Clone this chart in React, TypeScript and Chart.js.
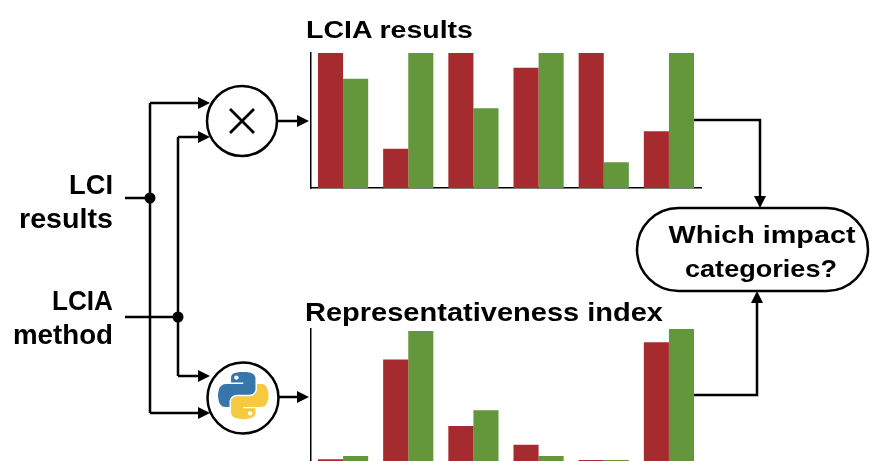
import React, { useEffect, useRef } from "react";
import { Chart, registerables } from "chart.js";

Chart.register(...registerables);

const categories = ["C1", "C2", "C3", "C4", "C5", "C6"];
const lciaRed = [100, 29, 100, 89, 100, 42];
const lciaGreen = [81, 100, 59, 100, 19, 100];
const repRed = [2, 77, 27, 13, 1.5, 90];
const repGreen = [4.5, 98.5, 39, 4.5, 1.5, 100];

const RED = "#A62B2F";
const GREEN = "#64963C";
const FONT = "'Liberation Sans', Arial, sans-serif";

type BarProps = {
  red: number[];
  green: number[];
  left: number;
  top: number;
  width: number;
  height: number;
  padding: { left: number; right: number; top: number; bottom: number };
};

function BarChart({ red, green, left, top, width, height, padding }: BarProps) {
  const ref = useRef<HTMLCanvasElement>(null);
  useEffect(() => {
    const chart = new Chart(ref.current as HTMLCanvasElement, {
      type: "bar",
      data: {
        labels: categories,
        datasets: [
          { data: red, backgroundColor: RED, borderWidth: 0 },
          { data: green, backgroundColor: GREEN, borderWidth: 0 },
        ],
      },
      options: {
        animation: false,
        responsive: false,
        maintainAspectRatio: false,
        layout: { padding },
        datasets: { bar: { categoryPercentage: 0.77, barPercentage: 1 } },
        plugins: {
          legend: { display: false },
          tooltip: { enabled: false },
          title: { display: false },
        },
        scales: {
          x: {
            grid: { display: false, drawTicks: false },
            ticks: { display: false },
            border: { display: true, color: "#000", width: 1.5 },
          },
          y: {
            min: 0,
            max: 100,
            grid: { display: false, drawTicks: false },
            ticks: { display: false },
            border: { display: true, color: "#000", width: 1.5 },
          },
        },
      },
    });
    return () => chart.destroy();
  }, []);
  return (
    <canvas
      ref={ref}
      width={width}
      height={height}
      style={{ position: "absolute", left, top, width, height }}
    />
  );
}

function arrow(x: number, y: number, dir: "r" | "d" | "u"): string {
  const L = 12;
  const W = 6;
  if (dir === "r") return `${x},${y} ${x - L},${y - W} ${x - L},${y + W}`;
  if (dir === "d") return `${x},${y} ${x - W},${y - L} ${x + W},${y - L}`;
  return `${x},${y} ${x - W},${y + L} ${x + W},${y + L}`;
}

const lines = [
  "M125,198H150",
  "M150,103V413",
  "M150,103H200",
  "M150,413H200",
  "M125,317H178",
  "M178,137V376",
  "M178,137H200",
  "M178,376H200",
  "M278,121H298",
  "M279,397H298",
  "M694,120H760V197",
  "M694,395H757V302",
];

const heads: [number, number, "r" | "d" | "u"][] = [
  [210, 103, "r"],
  [210, 413, "r"],
  [210, 137, "r"],
  [210, 376, "r"],
  [309, 121, "r"],
  [309, 397, "r"],
  [760, 208, "d"],
  [757, 291, "u"],
];

const blueSnake =
  "M54.92,0C50.34,0.02 45.96,0.41 42.11,1.09C30.76,3.1 28.7,7.29 28.7,15.03v10.22h26.81v3.41h-26.81h-10.06c-7.79,0 -14.62,4.68 -16.75,13.59c-2.46,10.21 -2.57,16.59 0,27.25c1.91,7.94 6.46,13.59 14.25,13.59h9.22v-12.25c0,-8.85 7.66,-16.66 16.75,-16.66h26.78c7.45,0 13.41,-6.14 13.41,-13.63v-25.53c0,-7.27 -6.13,-12.72 -13.41,-13.94C64.28,0.33 59.5,-0.02 54.92,0Z M40.42,8.22c2.77,0 5.03,2.3 5.03,5.12c0,2.82 -2.26,5.09 -5.03,5.09c-2.78,0 -5.03,-2.28 -5.03,-5.09c0,-2.83 2.25,-5.12 5.03,-5.12Z";
const yellowSnake =
  "M85.64,28.66v11.91c0,9.23 -7.83,17 -16.75,17h-26.78c-7.34,0 -13.41,6.28 -13.41,13.63v25.53c0,7.27 6.32,11.54 13.41,13.63c8.49,2.5 16.63,2.95 26.78,0c6.75,-1.95 13.41,-5.89 13.41,-13.63v-10.22h-26.78v-3.41h26.78h13.41c7.79,0 10.7,-5.44 13.41,-13.59c2.8,-8.4 2.68,-16.48 0,-27.25c-1.93,-7.76 -5.6,-13.59 -13.41,-13.59Z M70.58,93.31c2.78,0 5.03,2.28 5.03,5.09c0,2.83 -2.25,5.13 -5.03,5.13c-2.77,0 -5.03,-2.3 -5.03,-5.13c0,-2.82 2.26,-5.09 5.03,-5.09Z";

type TextSpec = {
  t: string;
  x: number;
  y: number;
  size: number;
  len: number;
  anchor: "start" | "middle" | "end";
};

const texts: TextSpec[] = [
  { t: "LCIA results", x: 306, y: 38, size: 24, len: 167, anchor: "start" },
  { t: "Representativeness index", x: 305, y: 321, size: 25, len: 358, anchor: "start" },
  { t: "LCI", x: 113, y: 194, size: 28, len: 44, anchor: "end" },
  { t: "results", x: 113, y: 228, size: 28, len: 94, anchor: "end" },
  { t: "LCIA", x: 113, y: 310, size: 28, len: 61, anchor: "end" },
  { t: "method", x: 113, y: 344, size: 28, len: 100, anchor: "end" },
  { t: "Which impact", x: 762, y: 243, size: 24, len: 187, anchor: "middle" },
  { t: "categories?", x: 761, y: 277, size: 24, len: 152, anchor: "middle" },
];

export default function App() {
  return (
    <div
      style={{
        position: "absolute",
        left: 0,
        top: 0,
        width: 870,
        height: 461,
        overflow: "hidden",
        background: "#fff",
      }}
    >
      <BarChart
        red={lciaRed}
        green={lciaGreen}
        left={300}
        top={45}
        width={420}
        height={155}
        padding={{ left: 10.5, right: 18.5, top: 8, bottom: 12 }}
      />
      <BarChart
        red={repRed}
        green={repGreen}
        left={300}
        top={320}
        width={420}
        height={160}
        padding={{ left: 10.5, right: 18.5, top: 9, bottom: 18 }}
      />
      <svg
        width={870}
        height={461}
        style={{ position: "absolute", left: 0, top: 0, pointerEvents: "none" }}
      >
        {lines.map((d, i) => (
          <path key={"l" + i} d={d} fill="none" stroke="#000" strokeWidth={2.5} />
        ))}
        {heads.map(([x, y, dir], i) => (
          <polygon key={"h" + i} points={arrow(x, y, dir)} fill="#000" />
        ))}
        <circle cx={150} cy={198} r={5.5} fill="#000" />
        <circle cx={178} cy={317} r={5.5} fill="#000" />
        <circle cx={242} cy={121} r={35} fill="#fff" stroke="#000" strokeWidth={2.5} />
        <path d="M230,109L254,133M254,109L230,133" stroke="#000" strokeWidth={2.8} />
        <circle cx={243} cy={398} r={35.5} fill="#fff" stroke="#000" strokeWidth={2.5} />
        <g transform="translate(218,372) scale(0.455,0.42)">
          <path d={blueSnake} fill="#3776AB" fillRule="evenodd" />
          <path d={yellowSnake} fill="#F7C93E" fillRule="evenodd" />
        </g>
        <rect
          x={637}
          y={208}
          width={231}
          height={83}
          rx={41.5}
          ry={41.5}
          fill="#fff"
          stroke="#000"
          strokeWidth={2.5}
        />
        {texts.map((s, i) => (
          <text
            key={"t" + i}
            x={s.x}
            y={s.y}
            fontFamily={FONT}
            fontWeight="bold"
            fontSize={s.size}
            textAnchor={s.anchor}
            textLength={s.len}
            lengthAdjust="spacingAndGlyphs"
            fill="#000"
          >
            {s.t}
          </text>
        ))}
      </svg>
    </div>
  );
}
